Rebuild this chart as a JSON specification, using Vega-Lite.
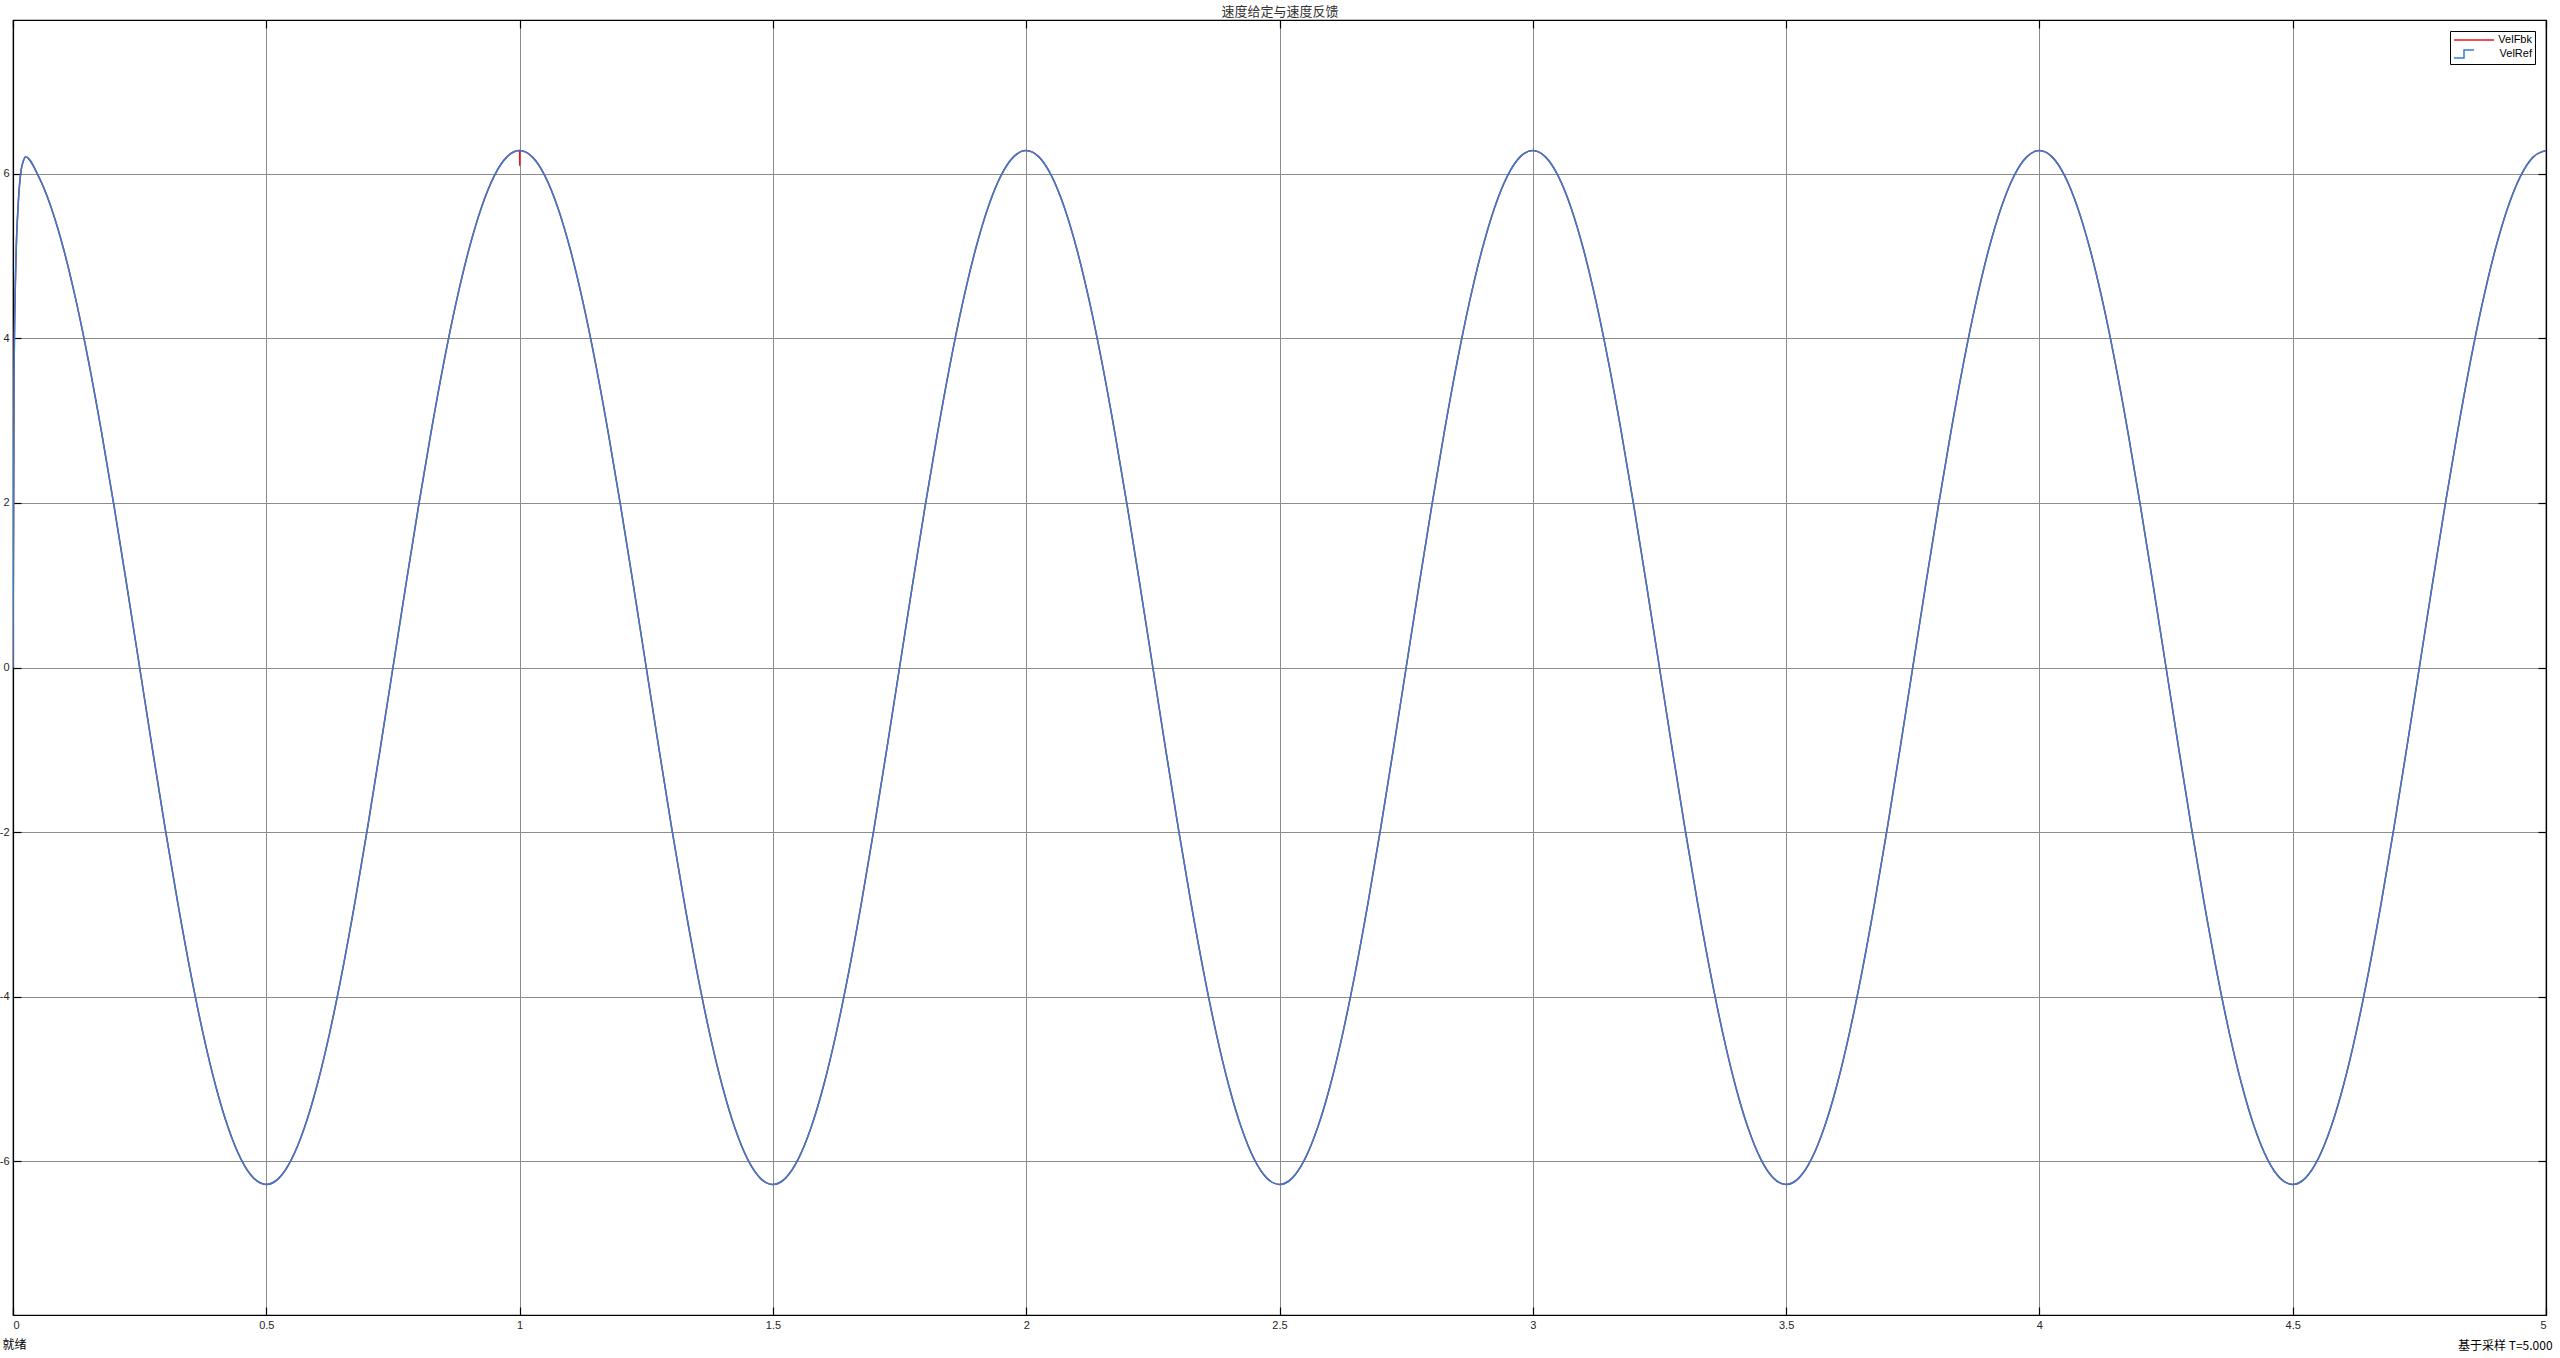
{
  "$schema": "https://vega.github.io/schema/vega-lite/v6.json",
  "width": 2533,
  "height": 1295,
  "autosize": {"type": "none"},
  "padding": {"left": 13, "top": 20, "right": 14, "bottom": 43},
  "background": "white",
  "title": {"text": "基于采样  T=5.000", "orient": "bottom", "anchor": "end", "fontSize": 12, "fontWeight": "normal", "font": "Noto Sans CJK SC", "color": "#000000", "offset": -9, "dx": 6},
  "config": {
    "font": "Liberation Sans",
    "view": {"stroke": "#000000", "strokeWidth": 1.2},
    "axis": {"labelFont": "Liberation Sans", "labelFontSize": 11, "labelColor": "#262626", "domainColor": "#000000", "tickColor": "#000000", "gridColor": "#8c8c8c", "gridOpacity": 1, "gridWidth": 1, "tickSize": -8, "tickWidth": 1.2, "domainWidth": 1.2, "labelPadding": 12}
  },
  "data": {"values": [
    {"t":0,"VelFbk":0,"VelRef":0},
    {"t":0.002,"VelFbk":3.5,"VelRef":3.5},
    {"t":0.006,"VelFbk":5.0,"VelRef":5.0},
    {"t":0.01,"VelFbk":5.6,"VelRef":5.6},
    {"t":0.015,"VelFbk":6.0,"VelRef":6.0},
    {"t":0.02,"VelFbk":6.15,"VelRef":6.15},
    {"t":0.025,"VelFbk":6.206,"VelRef":6.206},
    {"t":0.05,"VelFbk":5.976,"VelRef":5.976},
    {"t":0.075,"VelFbk":5.598,"VelRef":5.598},
    {"t":0.1,"VelFbk":5.083,"VelRef":5.083},
    {"t":0.125,"VelFbk":4.443,"VelRef":4.443},
    {"t":0.15,"VelFbk":3.693,"VelRef":3.693},
    {"t":0.175,"VelFbk":2.852,"VelRef":2.852},
    {"t":0.2,"VelFbk":1.942,"VelRef":1.942},
    {"t":0.225,"VelFbk":0.983,"VelRef":0.983},
    {"t":0.25,"VelFbk":0,"VelRef":0},
    {"t":0.275,"VelFbk":-0.983,"VelRef":-0.983},
    {"t":0.3,"VelFbk":-1.942,"VelRef":-1.942},
    {"t":0.325,"VelFbk":-2.852,"VelRef":-2.852},
    {"t":0.35,"VelFbk":-3.693,"VelRef":-3.693},
    {"t":0.375,"VelFbk":-4.443,"VelRef":-4.443},
    {"t":0.4,"VelFbk":-5.083,"VelRef":-5.083},
    {"t":0.425,"VelFbk":-5.598,"VelRef":-5.598},
    {"t":0.45,"VelFbk":-5.976,"VelRef":-5.976},
    {"t":0.475,"VelFbk":-6.206,"VelRef":-6.206},
    {"t":0.5,"VelFbk":-6.283,"VelRef":-6.283},
    {"t":0.525,"VelFbk":-6.206,"VelRef":-6.206},
    {"t":0.55,"VelFbk":-5.976,"VelRef":-5.976},
    {"t":0.575,"VelFbk":-5.598,"VelRef":-5.598},
    {"t":0.6,"VelFbk":-5.083,"VelRef":-5.083},
    {"t":0.625,"VelFbk":-4.443,"VelRef":-4.443},
    {"t":0.65,"VelFbk":-3.693,"VelRef":-3.693},
    {"t":0.675,"VelFbk":-2.852,"VelRef":-2.852},
    {"t":0.7,"VelFbk":-1.942,"VelRef":-1.942},
    {"t":0.725,"VelFbk":-0.983,"VelRef":-0.983},
    {"t":0.75,"VelFbk":0,"VelRef":0},
    {"t":0.775,"VelFbk":0.983,"VelRef":0.983},
    {"t":0.8,"VelFbk":1.942,"VelRef":1.942},
    {"t":0.825,"VelFbk":2.852,"VelRef":2.852},
    {"t":0.85,"VelFbk":3.693,"VelRef":3.693},
    {"t":0.875,"VelFbk":4.443,"VelRef":4.443},
    {"t":0.9,"VelFbk":5.083,"VelRef":5.083},
    {"t":0.925,"VelFbk":5.598,"VelRef":5.598},
    {"t":0.95,"VelFbk":5.976,"VelRef":5.976},
    {"t":0.975,"VelFbk":6.206,"VelRef":6.206},
    {"t":1.0,"VelFbk":6.283,"VelRef":6.283},
    {"t":1.0002,"VelFbk":6.1,"VelRef":6.283},
    {"t":1.0004,"VelFbk":6.283,"VelRef":6.283},
    {"t":1.025,"VelFbk":6.206,"VelRef":6.206},
    {"t":1.05,"VelFbk":5.976,"VelRef":5.976},
    {"t":1.075,"VelFbk":5.598,"VelRef":5.598},
    {"t":1.1,"VelFbk":5.083,"VelRef":5.083},
    {"t":1.125,"VelFbk":4.443,"VelRef":4.443},
    {"t":1.15,"VelFbk":3.693,"VelRef":3.693},
    {"t":1.175,"VelFbk":2.852,"VelRef":2.852},
    {"t":1.2,"VelFbk":1.942,"VelRef":1.942},
    {"t":1.225,"VelFbk":0.983,"VelRef":0.983},
    {"t":1.25,"VelFbk":0,"VelRef":0},
    {"t":1.275,"VelFbk":-0.983,"VelRef":-0.983},
    {"t":1.3,"VelFbk":-1.942,"VelRef":-1.942},
    {"t":1.325,"VelFbk":-2.852,"VelRef":-2.852},
    {"t":1.35,"VelFbk":-3.693,"VelRef":-3.693},
    {"t":1.375,"VelFbk":-4.443,"VelRef":-4.443},
    {"t":1.4,"VelFbk":-5.083,"VelRef":-5.083},
    {"t":1.425,"VelFbk":-5.598,"VelRef":-5.598},
    {"t":1.45,"VelFbk":-5.976,"VelRef":-5.976},
    {"t":1.475,"VelFbk":-6.206,"VelRef":-6.206},
    {"t":1.5,"VelFbk":-6.283,"VelRef":-6.283},
    {"t":1.525,"VelFbk":-6.206,"VelRef":-6.206},
    {"t":1.55,"VelFbk":-5.976,"VelRef":-5.976},
    {"t":1.575,"VelFbk":-5.598,"VelRef":-5.598},
    {"t":1.6,"VelFbk":-5.083,"VelRef":-5.083},
    {"t":1.625,"VelFbk":-4.443,"VelRef":-4.443},
    {"t":1.65,"VelFbk":-3.693,"VelRef":-3.693},
    {"t":1.675,"VelFbk":-2.852,"VelRef":-2.852},
    {"t":1.7,"VelFbk":-1.942,"VelRef":-1.942},
    {"t":1.725,"VelFbk":-0.983,"VelRef":-0.983},
    {"t":1.75,"VelFbk":0,"VelRef":0},
    {"t":1.775,"VelFbk":0.983,"VelRef":0.983},
    {"t":1.8,"VelFbk":1.942,"VelRef":1.942},
    {"t":1.825,"VelFbk":2.852,"VelRef":2.852},
    {"t":1.85,"VelFbk":3.693,"VelRef":3.693},
    {"t":1.875,"VelFbk":4.443,"VelRef":4.443},
    {"t":1.9,"VelFbk":5.083,"VelRef":5.083},
    {"t":1.925,"VelFbk":5.598,"VelRef":5.598},
    {"t":1.95,"VelFbk":5.976,"VelRef":5.976},
    {"t":1.975,"VelFbk":6.206,"VelRef":6.206},
    {"t":2.0,"VelFbk":6.283,"VelRef":6.283},
    {"t":2.025,"VelFbk":6.206,"VelRef":6.206},
    {"t":2.05,"VelFbk":5.976,"VelRef":5.976},
    {"t":2.075,"VelFbk":5.598,"VelRef":5.598},
    {"t":2.1,"VelFbk":5.083,"VelRef":5.083},
    {"t":2.125,"VelFbk":4.443,"VelRef":4.443},
    {"t":2.15,"VelFbk":3.693,"VelRef":3.693},
    {"t":2.175,"VelFbk":2.852,"VelRef":2.852},
    {"t":2.2,"VelFbk":1.942,"VelRef":1.942},
    {"t":2.225,"VelFbk":0.983,"VelRef":0.983},
    {"t":2.25,"VelFbk":0,"VelRef":0},
    {"t":2.275,"VelFbk":-0.983,"VelRef":-0.983},
    {"t":2.3,"VelFbk":-1.942,"VelRef":-1.942},
    {"t":2.325,"VelFbk":-2.852,"VelRef":-2.852},
    {"t":2.35,"VelFbk":-3.693,"VelRef":-3.693},
    {"t":2.375,"VelFbk":-4.443,"VelRef":-4.443},
    {"t":2.4,"VelFbk":-5.083,"VelRef":-5.083},
    {"t":2.425,"VelFbk":-5.598,"VelRef":-5.598},
    {"t":2.45,"VelFbk":-5.976,"VelRef":-5.976},
    {"t":2.475,"VelFbk":-6.206,"VelRef":-6.206},
    {"t":2.5,"VelFbk":-6.283,"VelRef":-6.283},
    {"t":2.525,"VelFbk":-6.206,"VelRef":-6.206},
    {"t":2.55,"VelFbk":-5.976,"VelRef":-5.976},
    {"t":2.575,"VelFbk":-5.598,"VelRef":-5.598},
    {"t":2.6,"VelFbk":-5.083,"VelRef":-5.083},
    {"t":2.625,"VelFbk":-4.443,"VelRef":-4.443},
    {"t":2.65,"VelFbk":-3.693,"VelRef":-3.693},
    {"t":2.675,"VelFbk":-2.852,"VelRef":-2.852},
    {"t":2.7,"VelFbk":-1.942,"VelRef":-1.942},
    {"t":2.725,"VelFbk":-0.983,"VelRef":-0.983},
    {"t":2.75,"VelFbk":0,"VelRef":0},
    {"t":2.775,"VelFbk":0.983,"VelRef":0.983},
    {"t":2.8,"VelFbk":1.942,"VelRef":1.942},
    {"t":2.825,"VelFbk":2.852,"VelRef":2.852},
    {"t":2.85,"VelFbk":3.693,"VelRef":3.693},
    {"t":2.875,"VelFbk":4.443,"VelRef":4.443},
    {"t":2.9,"VelFbk":5.083,"VelRef":5.083},
    {"t":2.925,"VelFbk":5.598,"VelRef":5.598},
    {"t":2.95,"VelFbk":5.976,"VelRef":5.976},
    {"t":2.975,"VelFbk":6.206,"VelRef":6.206},
    {"t":3.0,"VelFbk":6.283,"VelRef":6.283},
    {"t":3.025,"VelFbk":6.206,"VelRef":6.206},
    {"t":3.05,"VelFbk":5.976,"VelRef":5.976},
    {"t":3.075,"VelFbk":5.598,"VelRef":5.598},
    {"t":3.1,"VelFbk":5.083,"VelRef":5.083},
    {"t":3.125,"VelFbk":4.443,"VelRef":4.443},
    {"t":3.15,"VelFbk":3.693,"VelRef":3.693},
    {"t":3.175,"VelFbk":2.852,"VelRef":2.852},
    {"t":3.2,"VelFbk":1.942,"VelRef":1.942},
    {"t":3.225,"VelFbk":0.983,"VelRef":0.983},
    {"t":3.25,"VelFbk":0,"VelRef":0},
    {"t":3.275,"VelFbk":-0.983,"VelRef":-0.983},
    {"t":3.3,"VelFbk":-1.942,"VelRef":-1.942},
    {"t":3.325,"VelFbk":-2.852,"VelRef":-2.852},
    {"t":3.35,"VelFbk":-3.693,"VelRef":-3.693},
    {"t":3.375,"VelFbk":-4.443,"VelRef":-4.443},
    {"t":3.4,"VelFbk":-5.083,"VelRef":-5.083},
    {"t":3.425,"VelFbk":-5.598,"VelRef":-5.598},
    {"t":3.45,"VelFbk":-5.976,"VelRef":-5.976},
    {"t":3.475,"VelFbk":-6.206,"VelRef":-6.206},
    {"t":3.5,"VelFbk":-6.283,"VelRef":-6.283},
    {"t":3.525,"VelFbk":-6.206,"VelRef":-6.206},
    {"t":3.55,"VelFbk":-5.976,"VelRef":-5.976},
    {"t":3.575,"VelFbk":-5.598,"VelRef":-5.598},
    {"t":3.6,"VelFbk":-5.083,"VelRef":-5.083},
    {"t":3.625,"VelFbk":-4.443,"VelRef":-4.443},
    {"t":3.65,"VelFbk":-3.693,"VelRef":-3.693},
    {"t":3.675,"VelFbk":-2.852,"VelRef":-2.852},
    {"t":3.7,"VelFbk":-1.942,"VelRef":-1.942},
    {"t":3.725,"VelFbk":-0.983,"VelRef":-0.983},
    {"t":3.75,"VelFbk":0,"VelRef":0},
    {"t":3.775,"VelFbk":0.983,"VelRef":0.983},
    {"t":3.8,"VelFbk":1.942,"VelRef":1.942},
    {"t":3.825,"VelFbk":2.852,"VelRef":2.852},
    {"t":3.85,"VelFbk":3.693,"VelRef":3.693},
    {"t":3.875,"VelFbk":4.443,"VelRef":4.443},
    {"t":3.9,"VelFbk":5.083,"VelRef":5.083},
    {"t":3.925,"VelFbk":5.598,"VelRef":5.598},
    {"t":3.95,"VelFbk":5.976,"VelRef":5.976},
    {"t":3.975,"VelFbk":6.206,"VelRef":6.206},
    {"t":4.0,"VelFbk":6.283,"VelRef":6.283},
    {"t":4.025,"VelFbk":6.206,"VelRef":6.206},
    {"t":4.05,"VelFbk":5.976,"VelRef":5.976},
    {"t":4.075,"VelFbk":5.598,"VelRef":5.598},
    {"t":4.1,"VelFbk":5.083,"VelRef":5.083},
    {"t":4.125,"VelFbk":4.443,"VelRef":4.443},
    {"t":4.15,"VelFbk":3.693,"VelRef":3.693},
    {"t":4.175,"VelFbk":2.852,"VelRef":2.852},
    {"t":4.2,"VelFbk":1.942,"VelRef":1.942},
    {"t":4.225,"VelFbk":0.983,"VelRef":0.983},
    {"t":4.25,"VelFbk":0,"VelRef":0},
    {"t":4.275,"VelFbk":-0.983,"VelRef":-0.983},
    {"t":4.3,"VelFbk":-1.942,"VelRef":-1.942},
    {"t":4.325,"VelFbk":-2.852,"VelRef":-2.852},
    {"t":4.35,"VelFbk":-3.693,"VelRef":-3.693},
    {"t":4.375,"VelFbk":-4.443,"VelRef":-4.443},
    {"t":4.4,"VelFbk":-5.083,"VelRef":-5.083},
    {"t":4.425,"VelFbk":-5.598,"VelRef":-5.598},
    {"t":4.45,"VelFbk":-5.976,"VelRef":-5.976},
    {"t":4.475,"VelFbk":-6.206,"VelRef":-6.206},
    {"t":4.5,"VelFbk":-6.283,"VelRef":-6.283},
    {"t":4.525,"VelFbk":-6.206,"VelRef":-6.206},
    {"t":4.55,"VelFbk":-5.976,"VelRef":-5.976},
    {"t":4.575,"VelFbk":-5.598,"VelRef":-5.598},
    {"t":4.6,"VelFbk":-5.083,"VelRef":-5.083},
    {"t":4.625,"VelFbk":-4.443,"VelRef":-4.443},
    {"t":4.65,"VelFbk":-3.693,"VelRef":-3.693},
    {"t":4.675,"VelFbk":-2.852,"VelRef":-2.852},
    {"t":4.7,"VelFbk":-1.942,"VelRef":-1.942},
    {"t":4.725,"VelFbk":-0.983,"VelRef":-0.983},
    {"t":4.75,"VelFbk":0,"VelRef":0},
    {"t":4.775,"VelFbk":0.983,"VelRef":0.983},
    {"t":4.8,"VelFbk":1.942,"VelRef":1.942},
    {"t":4.825,"VelFbk":2.852,"VelRef":2.852},
    {"t":4.85,"VelFbk":3.693,"VelRef":3.693},
    {"t":4.875,"VelFbk":4.443,"VelRef":4.443},
    {"t":4.9,"VelFbk":5.083,"VelRef":5.083},
    {"t":4.925,"VelFbk":5.598,"VelRef":5.598},
    {"t":4.95,"VelFbk":5.976,"VelRef":5.976},
    {"t":4.975,"VelFbk":6.206,"VelRef":6.206},
    {"t":5.0,"VelFbk":6.283,"VelRef":6.283}
  ]},
  "transform": [{"fold": ["VelFbk", "VelRef"], "as": ["series", "v"]}],
  "resolve": {"axis": {"x": "independent", "y": "independent"}},
  "layer": [
    {
      "transform": [{"filter": "datum.series === 'VelFbk'"}],
      "mark": {"type": "line", "strokeWidth": 1.5, "interpolate": "monotone", "clip": true},
      "encoding": {
        "x": {"field": "t", "type": "quantitative", "scale": {"domain": [0, 5], "nice": false, "zero": false},
          "axis": {"orient": "bottom", "values": [0,0.5,1,1.5,2,2.5,3,3.5,4,4.5,5], "format": "~f", "grid": true,
            "title": "就绪", "titleFont": "Noto Sans CJK SC", "titleFontSize": 12, "titleFontWeight": "normal", "titleColor": "#000000",
            "titleAnchor": "start", "titleAlign": "left", "titleBaseline": "middle", "titleX": -11, "titleY": 29}},
        "y": {"field": "v", "type": "quantitative", "scale": {"domain": [-7.87, 7.87], "nice": false, "zero": false},
          "axis": {"orient": "left", "values": [-6,-4,-2,0,2,4,6], "labelExpr": "'' + datum.value", "grid": true, "title": null}},
        "color": {"field": "series", "type": "nominal",
          "scale": {"domain": ["VelFbk", "VelRef"], "range": ["#e8161b", "#2f7fd2"]},
          "legend": {"title": null, "orient": "top-right", "offset": 11, "strokeColor": "#000000", "fillColor": "#ffffff",
            "padding": 3, "cornerRadius": 0, "labelFontSize": 11, "labelFont": "Liberation Sans", "labelColor": "#000000",
            "symbolType": "M-1,0H7", "symbolSize": 100, "symbolStrokeWidth": 1.5, "rowPadding": 2,
            "labelAlign": "right", "labelOffset": 67,
            "encode": {"symbols": {"update": {
              "shape": {"signal": "datum.value === 'VelRef' ? 'M-1,0.8H1V-0.8H3' : 'M-1,0H7'"},
              "stroke": {"signal": "datum.value === 'VelRef' ? '#1eaae6' : '#e8161b'"}}}}}}
      }
    },
    {
      "transform": [{"filter": "datum.series === 'VelRef'"}],
      "mark": {"type": "line", "strokeWidth": 1.5, "interpolate": "monotone", "clip": true},
      "encoding": {
        "x": {"field": "t", "type": "quantitative",
          "axis": {"orient": "top", "values": [0,0.5,1,1.5,2,2.5,3,3.5,4,4.5,5], "labels": false, "grid": false,
            "title": "速度给定与速度反馈", "titleFont": "Noto Sans CJK SC", "titleFontSize": 13, "titleFontWeight": "normal", "titleColor": "#333333",
            "titleBaseline": "middle", "titleY": -9}},
        "y": {"field": "v", "type": "quantitative",
          "axis": {"orient": "right", "values": [-6,-4,-2,0,2,4,6], "labels": false, "grid": false, "title": null}},
        "color": {"field": "series", "type": "nominal"}
      }
    }
  ]
}
